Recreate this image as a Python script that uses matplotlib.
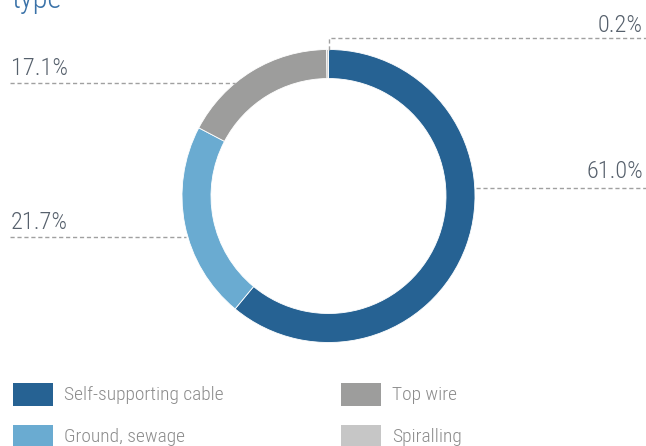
import matplotlib.pyplot as plt
from matplotlib.patches import Rectangle
from matplotlib import font_manager

names = {f.name for f in font_manager.fontManager.ttflist}
font = 'Roboto'
for cand in ['Roboto Condensed', 'Liberation Sans Narrow', 'Open Sans Condensed']:
    if cand in names:
        font = cand
        break
plt.rcParams['font.family'] = [font, 'DejaVu Sans']
plt.rcParams['font.weight'] = 'light'

categories = ['Self-supporting cable', 'Ground, sewage', 'Top wire', 'Spiralling']
shares = [61.0, 21.7, 17.1, 0.2]
colors = ['#266293', '#6aabd1', '#9d9d9c', '#c6c6c6']
labels = ['61.0%', '21.7%', '17.1%', '0.2%']

W, H = 646, 446
fig = plt.figure(figsize=(W / 100, H / 100), dpi=100)
ax = fig.add_axes([0, 0, 1, 1])


def y(py):
    # pixel row from top -> data y
    return H - py


cx, cy, r = 328.5, 196, 146.5
ax.pie(shares, colors=colors, startangle=90, counterclock=False,
       center=(cx, y(cy)), radius=r, frame=True,
       wedgeprops=dict(width=29, edgecolor='white', linewidth=0.6))
ax.set_xlim(0, W)
ax.set_ylim(0, H)
ax.set_aspect('equal')
ax.axis('off')

line_kw = dict(color='#a0a0a0', lw=1, ls=(0, (3, 2)))
txt_kw = dict(color='#56606c', fontsize=17.5)

# leader lines and labels
ax.plot([cx, cx, W], [y(50), y(38), y(38)], **line_kw)
ax.text(643, y(32), labels[3], ha='right', va='baseline', **txt_kw)

ax.plot([476, W], [y(188), y(188)], **line_kw)
ax.text(643, y(178), labels[0], ha='right', va='baseline', **txt_kw)

ax.plot([10, 186], [y(237), y(237)], **line_kw)
ax.text(11, y(229), labels[1], ha='left', va='baseline', **txt_kw)

ax.plot([10, 235], [y(83), y(83)], **line_kw)
ax.text(11, y(75), labels[2], ha='left', va='baseline', **txt_kw)

# cut-off title
ax.text(11, y(8), 'type', color='#3a72a8', fontsize=22, ha='left', va='baseline')

# legend
pos = [(12.7, 383), (12.7, 425), (340.7, 383), (340.7, 425)]
for (lx, ly), name, c in zip(pos, categories, colors):
    ax.add_patch(Rectangle((lx, y(ly + 23)), 40, 23, color=c, lw=0))
    ax.text(lx + 51, y(ly + 12), name, color='#8c8c8c', fontsize=14,
            ha='left', va='center')

fig.savefig('out.png', dpi=100)
